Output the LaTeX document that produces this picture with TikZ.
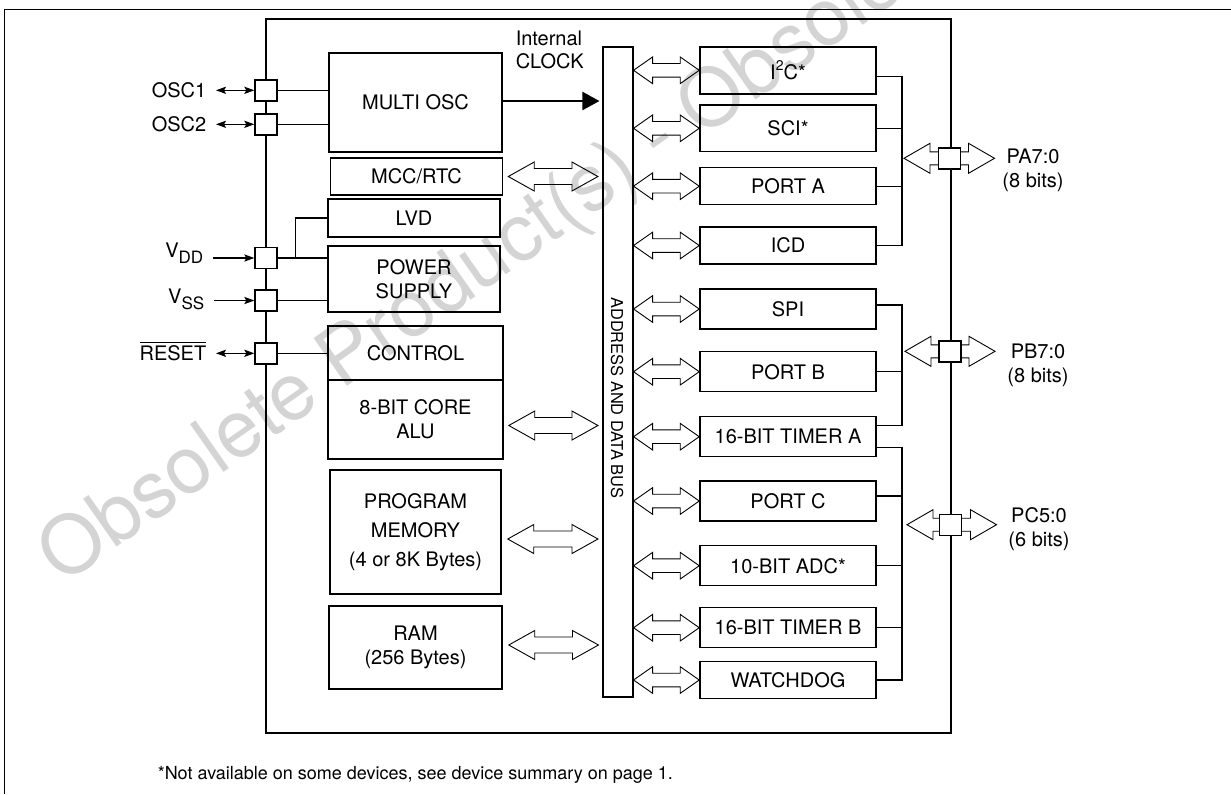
\documentclass[tikz,border=0pt]{standalone}
\usepackage{fontspec}
\setmainfont{TeX Gyre Heros}
\usetikzlibrary{calc,arrows.meta}

\tikzset{every picture/.style={line width=0.75pt}}
\tikzset{
  blk/.style={draw, line width=0.75pt, inner sep=0pt, align=center, font=\fontsize{10}{12}\selectfont},
  pinbox/.style={draw, fill=white, line width=0.7pt, inner sep=0pt, minimum width=11pt, minimum height=10.5pt},
  pinlbl/.style={anchor=east, inner xsep=4.5pt, inner ysep=0pt, font=\fontsize{10}{12}\selectfont},
  portlbl/.style={inner sep=0pt, align=center, font=\fontsize{10}{12}\selectfont},
  wire/.style={line width=0.6pt},
  sig/.style={line width=0.6pt, -{Stealth[length=5pt,width=3.6pt,inset=1pt]}},
  sigboth/.style={line width=0.6pt, {Stealth[length=5pt,width=3.6pt,inset=1pt]}-{Stealth[length=5pt,width=3.6pt,inset=1pt]}},
  hollow/.style args={#1/#2/#3}{to path={-- ($(\tikztostart)+(#1,#2)$) -- ($(\tikztostart)+(#1,#3)$)
    -- ($(\tikztotarget)+(-#1,#3)$) -- ($(\tikztotarget)+(-#1,#2)$) -- (\tikztotarget)
    -- ($(\tikztotarget)+(-#1,-#2)$) -- ($(\tikztotarget)+(-#1,-#3)$)
    -- ($(\tikztostart)+(#1,-#3)$) -- ($(\tikztostart)+(#1,-#2)$) -- cycle}},
  busR/.style={line width=0.45pt, hollow=19/13.3/6.8},
  busL/.style={line width=0.45pt, hollow=26/14.5/8},
  portarrow/.style={line width=0.45pt, hollow=26/15/6.5},
  clockarrow/.style={line width=1pt, -{Triangle[length=8.5pt,width=9pt]}, shorten >=1.5pt},
}

\begin{document}
\begin{tikzpicture}[x=0.5pt,y=0.5pt,yscale=-1,xscale=1]
\useasboundingbox (0,0) rectangle (1231,794);

% Watermark
\begin{scope}
\clip (0,0) rectangle (1231,794);
\node (wmark) [anchor=base west, rotate=35, inner sep=0pt, text=black!17, font=\fontsize{40}{40}\selectfont] at (62,586) {Obsolete Product(s) - Obsolete Product(s)};
\end{scope}

% Frame
\draw [line width=0.4pt] (4,794) -- (4,9) -- (1231,9);

%Shape: Rectangle (chip)
\node (chip) [draw, line width=0.7pt, minimum width=342.5pt, minimum height=357pt, inner sep=0pt] at (608.5,376) {};

%Shape: Rectangle (bus)
\node (bus) [draw, line width=0.55pt, minimum width=15pt, minimum height=325pt, inner sep=0pt] at (618,372) {};
% Text Node
\node (buslbl) [rotate=-90, inner sep=0pt, font=\fontsize{8.2}{10}\selectfont] at (617,398) {ADDRESS AND DATA BUS};

% Left blocks
\node (osc) [blk, minimum width=86.5pt, minimum height=49.5pt] at (415.5,102.5) {MULTI OSC};
\node (mcc) [blk, minimum width=86pt, minimum height=18.5pt] at (416.5,176.5) {MCC/RTC};
\node (lvd) [blk, minimum width=86pt, minimum height=19pt] at (414,218) {LVD};
\node (pwr) [blk, minimum width=86pt, minimum height=33pt] at (414,279) {POWER\\SUPPLY};
\node (ctl) [blk, minimum width=87.5pt, minimum height=27pt] at (415.5,353) {CONTROL};
\node (alu) [blk, minimum width=87.5pt, minimum height=39.5pt] at (415.5,419.5) {8-BIT CORE\\ALU};
\node (prg) [blk, minimum width=85.5pt, minimum height=62pt] at (415.5,532) {PROGRAM\\[2.5pt]MEMORY\\[2.5pt](4 or 8K Bytes)};
\node (ram) [blk, minimum width=86.5pt, minimum height=41.5pt] at (415.5,647.5) {RAM\\(256 Bytes)};

% Right blocks
\node (i2c) [blk, minimum width=88pt, minimum height=23.5pt] at (788,70.3) {I\raisebox{0.85ex}{\fontsize{7}{7}\selectfont 2}C*};
\node (sci) [blk, minimum width=88pt, minimum height=23.3pt] at (788,128.3) {SCI*};
\node (pta) [blk, minimum width=88pt, minimum height=18.5pt] at (788,186.2) {PORT A};
\node (icd) [blk, minimum width=88pt, minimum height=18.5pt] at (788,245.5) {ICD};
\node (spi) [blk, minimum width=88pt, minimum height=20pt] at (788,309) {SPI};
\node (ptb) [blk, minimum width=88pt, minimum height=20pt] at (788,371.7) {PORT B};
\node (tma) [blk, minimum width=88pt, minimum height=20pt] at (788,436.7) {16-BIT TIMER A};
\node (ptc) [blk, minimum width=88pt, minimum height=20pt] at (788,501) {PORT C};
\node (adc) [blk, minimum width=88pt, minimum height=20pt] at (788,565.7) {10-BIT ADC*};
\node (tmb) [blk, minimum width=88pt, minimum height=20pt] at (788,627.7) {16-BIT TIMER B};
\node (wdg) [blk, minimum width=88pt, minimum height=18.3pt] at (788,680) {WATCHDOG};

% Left pins
\node (osc1p) [pinbox] at (266,90.3) {};
\node (osc2p) [pinbox] at (266,124.3) {};
\node (vddp) [pinbox] at (266,258) {};
\node (vssp) [pinbox] at (266,300.5) {};
\node (rstp) [pinbox] at (266,353.3) {};

% Text Node
\node (osc1l) [pinlbl] at (216,90.3) {OSC1};
\node (osc2l) [pinlbl] at (216,124.3) {OSC2};
\node (vddl) [pinlbl] at (213,250.5) {V\smash{\raisebox{-0.55ex}{\fontsize{8.5}{8.5}\selectfont DD}}};
\node (vssl) [pinlbl] at (214,296.3) {V\smash{\raisebox{-0.55ex}{\fontsize{8.5}{8.5}\selectfont SS}}};
\node (rstl) [pinlbl] at (216,353.3) {\smash{$\overline{\mbox{RESET}}$}\vphantom{RESET}};

\draw [sigboth] (osc1l.east) -- (osc1p.west);
\draw [sigboth] (osc2l.east) -- (osc2p.west);
\draw [sig] (vddp.west -| vddl.east) -- (vddp.west);
\draw [sig] (vssp.west -| vssl.east) -- (vssp.west);
\draw [sigboth] (rstl.east) -- (rstp.west);

% Pin wiring
\draw [wire] (osc1p.east) -- (osc1p.east -| osc.west);
\draw [wire] (osc2p.east) -- (osc2p.east -| osc.west);
\draw [wire] (vddp.east) -- (vddp.east -| pwr.west);
\coordinate (vddk) at ($(vddp.east)+(18,0)$);
\draw [wire] (vddk) |- (lvd.west);
\draw [wire] (vssp.east) -- (vssp.east -| pwr.west);
\draw [wire] (rstp.east) -- (rstp.east -| ctl.west);

% Internal clock
\coordinate (clk) at ($(osc.east)+(0,-1.5)$);
\draw [clockarrow] (clk) -- (clk -| bus.west);
\node (clklbl) [anchor=north west, inner sep=0pt, align=left, font=\fontsize{10}{11.7}\selectfont] at (515,30) {Internal\\CLOCK};

% Left bus arrows
\coordinate (mccA) at ($(mcc.east)+(5,0)$);
\coordinate (mccB) at ($(mcc.east -| bus.west)+(-4.5,0)$);
\draw [busL] (mccA) to (mccB);
\coordinate (aluA) at ($(alu.east)+(5,6)$);
\coordinate (aluB) at ($(alu.east -| bus.west)+(-4.5,6)$);
\draw [busL] (aluA) to (aluB);
\coordinate (prgA) at ($(prg.east)+(6,7)$);
\coordinate (prgB) at ($(prg.east -| bus.west)+(-4.5,7)$);
\draw [busL] (prgA) to (prgB);
\coordinate (ramA) at ($(ram.east)+(6,-2.5)$);
\coordinate (ramB) at ($(ram.east -| bus.west)+(-4,-2.5)$);
\draw [busL] (ramA) to (ramB);

% Right bus arrows
\foreach \blk in {i2c,sci,pta,icd,spi,ptb,tma,ptc,adc,tmb,wdg}{
  \coordinate (bw) at (\blk.west -| bus.east);
  \draw [busR] (bw) to (\blk.west);
}

% Port groups
\coordinate (ga) at (902,0);
\coordinate (i2cw) at ($(i2c.east)+(0,6)$);
\draw [wire] (i2cw) -| (ga |- icd.east) -- (icd.east);
\draw [wire] (sci.east) -- (sci.east -| ga);
\draw [wire] (pta.east) -- (pta.east -| ga);

\coordinate (spiw) at ($(spi.east)+(0,-4)$);
\coordinate (tmaw1) at ($(tma.east)+(0,-11)$);
\draw [wire] (spiw) -| (ga |- tmaw1) -- (tmaw1);
\draw [wire] (ptb.east) -- (ptb.east -| ga);

\coordinate (tmaw2) at ($(tma.east)+(0,10.6)$);
\draw [wire] (tmaw2) -| (ga |- wdg.east) -- (wdg.east);
\coordinate (ptcw) at ($(ptc.east)+(0,-5)$);
\draw [wire] (ptcw) -- (ptcw -| ga);
\draw [wire] (adc.east) -- (adc.east -| ga);
\draw [wire] (tmb.east) -- (tmb.east -| ga);

% Port pins
\coordinate (pac) at (949.5,158.3);
\coordinate (pbc) at (950,351.3);
\coordinate (pcc) at (950.5,524.7);
\coordinate (paL) at ($(pac -| ga)+(2,0)$);
\coordinate (paR) at ($(pac)+(45,0)$);
\draw [portarrow] (paL) to (paR);
\coordinate (pbL) at ($(pbc -| ga)+(3,0)$);
\coordinate (pbR) at ($(pbc)+(45,0)$);
\draw [portarrow] (pbL) to (pbR);
\coordinate (pcL) at ($(pcc -| ga)+(5,0)$);
\coordinate (pcR) at ($(pcc)+(46,0)$);
\draw [portarrow] (pcL) to (pcR);
\node (pap) [pinbox] at (pac) {};
\node (pbp) [pinbox] at (pbc) {};
\node (pcp) [pinbox] at (pcc) {};

% Text Node
\node (pal) [portlbl] at (1033,170.5) {PA7:0\\(8 bits)};
\node (pbl) [portlbl] at (1038,365) {PB7:0\\(8 bits)};
\node (pcl) [portlbl] at (1039,529.5) {PC5:0\\(6 bits)};

% Text Node
\node (note) [anchor=base west, inner sep=0pt, font=\fontsize{9}{11}\selectfont] at (157,779) {*Not available on some devices, see device summary on page 1.};

\end{tikzpicture}
\end{document}
